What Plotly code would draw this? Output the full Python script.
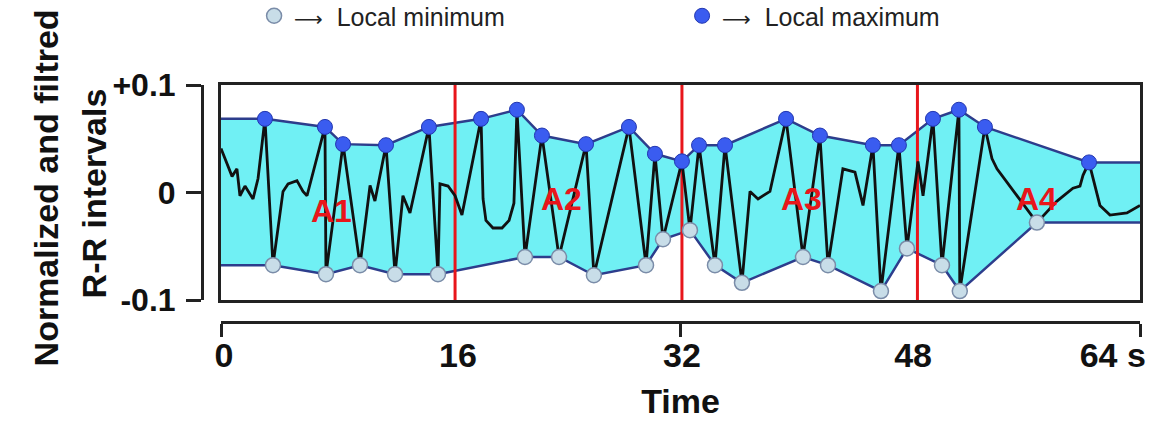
import plotly.graph_objects as go

# ---------------- data ----------------
# filtered R-R signal (time in s, normalized value)
curve_t = [0.0, 0.77, 1.11, 1.32, 1.67, 2.23, 2.58, 3.06, 3.62, 4.32, 4.67, 5.29, 5.71, 5.99,
           7.24, 7.31, 8.50, 9.68, 10.38, 10.72, 11.49, 12.12, 12.67, 13.16, 14.48, 15.11,
           15.25, 15.81, 16.30, 16.78, 18.11, 18.25, 18.45, 18.94, 19.57, 20.06, 20.40, 20.61,
           21.17, 22.35, 23.54, 25.42, 25.97, 28.41, 29.60, 30.22, 30.78, 32.10, 32.66, 33.29,
           34.40, 35.10, 36.28, 36.84, 37.40, 38.23, 39.35, 40.53, 41.71, 42.27, 43.31, 44.15,
           44.71, 45.40, 45.96, 47.21, 47.77, 48.54, 48.89, 49.58, 50.21, 51.39, 51.45, 53.20,
           53.69, 54.04, 56.82, 58.22, 59.33, 59.82, 60.03, 60.45, 61.21, 61.91, 63.09, 64.0]
curve_v = [0.041, 0.015, 0.022, -0.003, 0.006, -0.006, 0.013, 0.0685, -0.0676, 0.001, 0.008,
           0.011, 0.001, -0.003, 0.061, -0.076, 0.045, -0.0676, 0.0065, -0.008, 0.044, -0.076,
           -0.003, -0.019, 0.061, -0.076, 0.008, 0.006, -0.003, -0.021, 0.0685, -0.006, -0.026,
           -0.033, -0.033, -0.026, -0.010, 0.077, -0.060, 0.053, -0.060, 0.045, -0.077, 0.061,
           -0.0676, 0.036, -0.0435, 0.029, -0.035, 0.044, -0.0676, 0.044, -0.084, 0.001, -0.006,
           0.001, 0.0685, -0.060, 0.053, -0.0676, 0.022, 0.019, -0.012, 0.044, -0.0917, 0.044,
           -0.052, 0.029, -0.003, 0.0685, -0.0676, 0.077, -0.0917, 0.061, 0.0315, 0.022, -0.028,
           -0.008, 0.004, 0.006, 0.016, 0.028, -0.012, -0.021, -0.019, -0.012]

# local maxima
max_t = [3.06, 7.24, 8.50, 11.49, 14.48, 18.11, 20.61, 22.35, 25.42, 28.41, 30.22, 32.10,
         33.29, 35.10, 39.35, 41.71, 45.40, 47.21, 49.58, 51.39, 53.20, 60.45]
max_v = [0.0685, 0.061, 0.045, 0.044, 0.061, 0.0685, 0.077, 0.053, 0.045, 0.061, 0.036, 0.029,
         0.044, 0.044, 0.0685, 0.053, 0.044, 0.044, 0.0685, 0.077, 0.061, 0.028]

# local minima
min_t = [3.62, 7.31, 9.68, 12.12, 15.11, 21.17, 23.54, 25.97, 29.60, 30.78, 32.66, 34.40,
         36.28, 40.53, 42.27, 45.96, 47.77, 50.21, 51.45, 56.82]
min_v = [-0.0676, -0.076, -0.0676, -0.076, -0.076, -0.060, -0.060, -0.077, -0.0676, -0.0435,
         -0.035, -0.0676, -0.084, -0.060, -0.0676, -0.0917, -0.052, -0.0676, -0.0917, -0.028]

# segment boundaries and segment labels
boundaries = [16.3, 32.1, 48.5]
region_labels = ["A1", "A2", "A3", "A4"]
region_label_t = [7.7, 23.7, 40.4, 56.8]
region_label_v = [-0.017, -0.006, -0.006, -0.006]

# axes
t_range = [0, 64]
v_range = [-0.1, 0.1]
x_tick_marks = [0, 32, 64]
x_label_pos = [0.2, 16.5, 32.1, 48.2, 62.1]
x_label_text = ["0", "16", "32", "48", "64 s"]
y_tick_vals = [-0.1, 0, 0.1]
y_tick_text = ["-0.1", "0", "+0.1"]

# ---------------- figure ----------------
FONT = "Liberation Sans, Arial, sans-serif"
FILL = "#70f0f4"
ENV = "#2d3d8c"
ARROW = "<span style='font-family:DejaVu Sans;font-size:20px'>\u27f6</span>"

# envelopes held flat to the chart edges
upper_t = [t_range[0]] + max_t + [t_range[1]]
upper_v = [max_v[0]] + max_v + [max_v[-1]]
lower_t = [t_range[0]] + min_t + [t_range[1]]
lower_v = [min_v[0]] + min_v + [min_v[-1]]

fig = go.Figure()
fig.add_trace(go.Scatter(x=lower_t, y=lower_v, mode="lines",
                         line=dict(color=ENV, width=2.5), showlegend=False, hoverinfo="skip"))
fig.add_trace(go.Scatter(x=upper_t, y=upper_v, mode="lines", fill="tonexty", fillcolor=FILL,
                         line=dict(color=ENV, width=2.5), showlegend=False, hoverinfo="skip"))

# red boundary lines
bx, by = [], []
for b in boundaries:
    bx += [b, b, None]
    by += [v_range[0], v_range[1], None]
fig.add_trace(go.Scatter(x=bx, y=by, mode="lines", line=dict(color="#e8161b", width=3),
                         showlegend=False, hoverinfo="skip"))

# signal
fig.add_trace(go.Scatter(x=curve_t, y=curve_v, mode="lines",
                         line=dict(color="#111111", width=2.8), showlegend=False))

# extrema
fig.add_trace(go.Scatter(x=min_t, y=min_v, mode="markers", name=ARROW + "  Local minimum",
                         marker=dict(size=15, color="#c8dde8",
                                     line=dict(color="#7a8ca8", width=1.5))))
fig.add_trace(go.Scatter(x=max_t, y=max_v, mode="markers", name=ARROW + "  Local maximum",
                         marker=dict(size=15, color="#3a5cf0",
                                     line=dict(color="#2236b0", width=1))))

# empty traces so the separate (free) axes get drawn
fig.add_trace(go.Scatter(x=[None], y=[None], xaxis="x2", yaxis="y", showlegend=False))
fig.add_trace(go.Scatter(x=[None], y=[None], xaxis="x3", yaxis="y", showlegend=False))
fig.add_trace(go.Scatter(x=[None], y=[None], xaxis="x", yaxis="y2", showlegend=False))

for lab, t, v in zip(region_labels, region_label_t, region_label_v):
    fig.add_annotation(x=t, y=v, xref="x", yref="y", text=lab, showarrow=False,
                       font=dict(family=FONT, size=32, color="#e8161b", weight="bold"))

# y-axis title (two lines)
fig.add_annotation(x=-0.116, y=0.565, xref="paper", yref="paper", text="Normalized and filtred",
                   textangle=-90, showarrow=False, xanchor="center", yanchor="middle",
                   font=dict(family=FONT, size=34, color="#111", weight="bold"))
fig.add_annotation(x=-0.067, y=0.544, xref="paper", yref="paper", text="R-R intervals",
                   textangle=-90, showarrow=False, xanchor="center", yanchor="middle",
                   font=dict(family=FONT, size=34, color="#111", weight="bold"))

dom_x = [61 / 980, 1]
dom_y = [22 / 237, 1]
box = dict(showline=True, mirror=True, linewidth=3, linecolor="#222", showgrid=False,
           zeroline=False, showticklabels=False, ticks="")

fig.update_layout(
    width=1156, height=423,
    margin=dict(l=160, r=16, t=85, b=101, autoexpand=False),
    paper_bgcolor="white", plot_bgcolor="white",
    font=dict(family=FONT, color="#111"),
    xaxis=dict(range=t_range, domain=dom_x, **box),
    yaxis=dict(range=v_range, domain=dom_y, **box),
    xaxis2=dict(overlaying="x", anchor="free", position=0, domain=dom_x, range=t_range,
                showline=True, linewidth=3, linecolor="#222", ticks="outside", ticklen=13,
                tickwidth=3, tickcolor="#222", tickvals=x_tick_marks, showticklabels=False,
                showgrid=False, zeroline=False),
    xaxis3=dict(overlaying="x", anchor="free", position=0, domain=dom_x, range=t_range,
                showline=False, ticks="", tickvals=x_label_pos, ticktext=x_label_text,
                ticklabelstandoff=10, showgrid=False, zeroline=False,
                tickfont=dict(family=FONT, size=34, color="#111", weight="bold"),
                title=dict(text="Time", standoff=16,
                           font=dict(family=FONT, size=34, color="#111", weight="bold"))),
    yaxis2=dict(overlaying="y", anchor="free", position=42 / 980, side="left", domain=dom_y,
                range=v_range, showline=True, linewidth=3, linecolor="#222", ticks="outside",
                ticklen=15, tickwidth=3, tickcolor="#222", tickvals=y_tick_vals,
                ticktext=y_tick_text, ticklabelstandoff=4, showgrid=False, zeroline=False,
                tickfont=dict(family=FONT, size=32, color="#111", weight="bold")),
    legend=dict(orientation="h", x=0.096, xanchor="left", y=1.291, yanchor="middle",
                traceorder="normal", entrywidth=383, entrywidthmode="pixels",
                bgcolor="rgba(0,0,0,0)",
                font=dict(family=FONT, size=25, color="#222")),
)

# the page's default 8px body margin would shift the figure; remove it
fig.write_html("out.html", config={"displayModeBar": False},
               post_script="document.body.style.margin='0';")
